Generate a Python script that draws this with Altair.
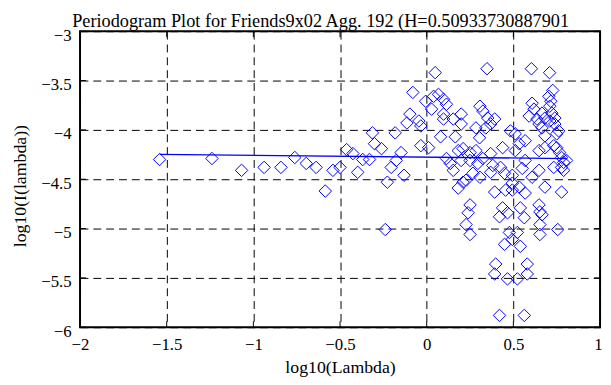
import altair as alt
import pandas as pd

# log10(Lambda) values of the periodogram points
log_lambda = [
    -1.541, -1.239, -1.068, -0.938, -0.841, -0.761, -0.695, -0.638, -0.585, -0.541,
    -0.500, -0.462, -0.426, -0.398, -0.369, -0.330, -0.313, -0.301, -0.261, -0.239,
    -0.227, -0.205, -0.182, -0.176, -0.148, -0.131, -0.114, -0.097, -0.080, -0.045,
    -0.034, -0.034, -0.006, 0.011, 0.028, 0.040, 0.049, 0.068, 0.080, 0.097,
    0.097, 0.097, 0.114, 0.114, 0.136, 0.153, 0.153, 0.165, 0.182, 0.182,
    0.210, 0.199, 0.199, 0.199, 0.227, 0.250, 0.250, 0.239, 0.227, 0.250,
    0.267, 0.284, 0.284, 0.295, 0.307, 0.307, 0.324, 0.324, 0.341, 0.348,
    0.352, 0.369, 0.369, 0.369, 0.381, 0.392, 0.392, 0.455, 0.398, 0.392,
    0.420, 0.420, 0.438, 0.466, 0.426, 0.449, 0.438, 0.483, 0.511, 0.494,
    0.494, 0.494, 0.477, 0.523, 0.494, 0.449, 0.540, 0.466, 0.523, 0.511,
    0.534, 0.568, 0.551, 0.568, 0.534, 0.568, 0.540, 0.563, 0.580, 0.580,
    0.563, 0.604, 0.591, 0.608, 0.619, 0.636, 0.608, 0.648, 0.648, 0.648,
    0.665, 0.665, 0.682, 0.682, 0.682, 0.682, 0.648, 0.653, 0.665, 0.653,
    0.653, 0.709, 0.727, 0.705, 0.716, 0.710, 0.710, 0.722, 0.739, 0.733,
    0.750, 0.761, 0.750, 0.767, 0.778, 0.790, 0.778, 0.807, 0.790, 0.733,
    0.778, 0.756, 0.739, 0.305, 0.210, 0.250,
]

# log10(I(lambda)) values of the periodogram points
log_I = [
    -4.30, -4.29, -4.41, -4.38, -4.38, -4.28, -4.34, -4.38, -4.62, -4.41,
    -4.38, -4.20, -4.24, -4.43, -4.30, -4.30, -4.03, -4.14, -4.19, -5.01,
    -4.53, -4.38, -4.03, -4.31, -4.23, -4.46, -3.93, -3.84, -3.62, -3.91,
    -3.96, -4.16, -3.71, -4.18, -3.79, -3.66, -3.42, -3.64, -4.07, -3.69,
    -3.84, -3.89, -3.74, -4.29, -4.34, -4.41, -3.89, -4.07, -4.21, -4.59,
    -4.53, -3.84, -4.31, -3.94, -4.51, -4.31, -4.76, -4.84, -4.96, -5.06,
    -4.44, -4.21, -3.98, -4.34, -3.76, -4.48, -3.81, -4.29, -3.98, -3.38,
    -3.88, -3.94, -4.24, -4.43, -4.36, -3.89, -4.63, -4.61, -5.36, -5.46,
    -5.88, -4.88, -4.79, -4.84, -4.38, -4.44, -4.18, -4.01, -4.04, -4.46,
    -4.54, -4.61, -5.04, -5.04, -5.11, -5.16, -5.18, -5.51, -5.51, -4.21,
    -4.14, -4.11, -4.39, -4.31, -4.58, -4.64, -4.79, -4.89, -5.36, -5.46,
    -5.88, -3.38, -3.86, -3.73, -3.79, -3.89, -4.48, -4.41, -4.21, -3.94,
    -3.98, -3.83, -3.88, -4.06, -4.18, -4.58, -4.76, -4.83, -4.86, -4.96,
    -5.06, -3.42, -3.60, -3.66, -3.71, -3.76, -3.91, -3.83, -3.94, -4.16,
    -4.04, -4.01, -4.18, -4.23, -4.28, -4.33, -4.38, -4.31, -4.41, -4.38,
    -4.63, -5.01, -3.88, -4.08, -4.19, -4.23,
]

# fitted line (slope = 1 - 2H)
fit_x = [-1.54, 0.81]
fit_y = [-4.247, -4.291]

x_ticks = [-2, -1.5, -1, -0.5, 0, 0.5, 1]
y_ticks = [-6, -5.5, -5, -4.5, -4, -3.5, -3]

# the title as far as it is visible in the picture
title_text = ["Periodogram Plot for Friends9x02 Agg. 192 (H=0.50933730887901"]

pts = pd.DataFrame({"x": log_lambda, "y": log_I})
fit = pd.DataFrame({"x": fit_x, "y": fit_y})
xt = pd.DataFrame({"x": x_ticks})
yt = pd.DataFrame({"y": y_ticks})
tt = pd.DataFrame({"t": title_text})

xscale = alt.Scale(domain=[-2, 1], nice=False, zero=False)
yscale = alt.Scale(domain=[-6, -3], nice=False, zero=False)

xaxis = alt.Axis(
    values=x_ticks, format="~g", title="log10(Lambda)",
    labelPadding=23, labelBaseline="alphabetic", labelFlush=False, labelOverlap=False,
    labelOffset={"condition": {"test": "datum.value == 1", "value": -2}, "value": 0},
    titleY=46, titleBaseline="alphabetic",
)
yaxis = alt.Axis(
    values=y_ticks, format="~g", title="log10(I(lambda))",
    labelPadding=9, labelBaseline="alphabetic", labelAlign="right",
    labelOffset=9, labelOverlap=False,
    titleAngle=270, titleX=-55, titleY=156.5, titleAlign="center", titleBaseline="alphabetic",
)

points = alt.Chart(pts).mark_point(
    shape="diamond", filled=False, color="#0000ff", size=160, strokeWidth=1, opacity=1
).encode(
    x=alt.X("x:Q", scale=xscale, axis=xaxis),
    y=alt.Y("y:Q", scale=yscale, axis=yaxis),
)

line = alt.Chart(fit).mark_line(color="#0000ff", strokeWidth=1.3).encode(
    x=alt.X("x:Q", scale=xscale), y=alt.Y("y:Q", scale=yscale)
)

tick_top = alt.Chart(xt).mark_rule(color="black", strokeWidth=1).encode(
    x=alt.X("x:Q", scale=xscale), y=alt.value(0), y2=alt.value(6)
)
tick_bottom = alt.Chart(xt).mark_rule(color="black", strokeWidth=1).encode(
    x=alt.X("x:Q", scale=xscale), y=alt.value(294), y2=alt.value(300)
)
tick_left = alt.Chart(yt).mark_rule(color="black", strokeWidth=1).encode(
    y=alt.Y("y:Q", scale=yscale), x=alt.value(0), x2=alt.value(6)
)
tick_right = alt.Chart(yt).mark_rule(color="black", strokeWidth=1).encode(
    y=alt.Y("y:Q", scale=yscale), x=alt.value(521), x2=alt.value(527)
)

title = alt.Chart(tt).mark_text(
    align="left", baseline="alphabetic", font="Liberation Serif", fontSize=18.5,
    color="black",
).encode(text="t:N", x=alt.value(-8), y=alt.value(-4.5))

chart = alt.layer(
    tick_top, tick_bottom, tick_left, tick_right, line, points, title
).properties(
    width=527,
    height=300,
    autosize=alt.AutoSizeParams(type="none"),
    padding={"left": 73, "top": 21, "right": 3, "bottom": 56},
).configure_view(
    stroke="black", strokeWidth=2
).configure_axis(
    grid=True, gridColor="black", gridDash=[8, 5], gridWidth=1, gridOpacity=1,
    domain=False, ticks=False, tickSize=0,
    labelFont="Liberation Serif", labelFontSize=17, labelColor="black",
    titleFont="Liberation Serif", titleFontSize=18, titleFontWeight="normal",
    titleColor="black",
)

chart.save("out.html", embed_options={"renderer": "svg", "actions": False})
